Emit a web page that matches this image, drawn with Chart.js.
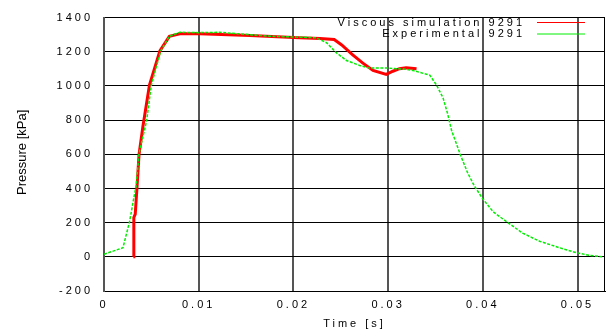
<!DOCTYPE html>
<html>
<head>
<meta charset="utf-8">
<script src="https://cdn.jsdelivr.net/npm/chart.js@4/dist/chart.umd.min.js"></script>
<style>
  html, body { margin: 0; padding: 0; background: #fff; }
  #wrap { width: 606px; height: 331px; }
</style>
</head>
<body>
<div id="wrap"><canvas id="myChart" width="606" height="331"></canvas></div>
<script>
// simulation (red)
var simTime = [0.0031, 0.00315, 0.0033, 0.0035, 0.0037, 0.0041, 0.0048, 0.0059, 0.0069, 0.0080,
  0.0101, 0.0154, 0.0206, 0.0228, 0.0243, 0.0251, 0.0262, 0.0273, 0.0284, 0.0298,
  0.0305, 0.0312, 0.0319, 0.0330];
var simPressure = [0, 230, 250, 420, 600, 760, 1005, 1205, 1290, 1305,
  1305, 1295, 1282, 1278, 1272, 1240, 1185, 1135, 1091, 1068,
  1086, 1101, 1107, 1101];

// experiment (green)
var expTime = [0.0000, 0.0020, 0.0027, 0.0032, 0.0034, 0.0037, 0.0045, 0.0050, 0.0060, 0.0069,
  0.0080, 0.0101, 0.0122, 0.0175, 0.0224, 0.0235, 0.0245, 0.0256, 0.0270, 0.0280,
  0.0298, 0.0319, 0.0326, 0.0344, 0.0351, 0.0358, 0.0363, 0.0367, 0.0372, 0.0377,
  0.0384, 0.0391, 0.0400, 0.0411, 0.0425, 0.0442, 0.0460, 0.0481, 0.0499, 0.0513, 0.0526];
var expPressure = [15, 53, 206, 360, 417, 605, 796, 1006, 1206, 1291,
  1314, 1312, 1314, 1291, 1282, 1253, 1196, 1149, 1120, 1105,
  1105, 1098, 1091, 1063, 1006, 930, 834, 739, 663, 587,
  491, 415, 339, 263, 206, 139, 91, 53, 24, 8, 0];

var legendLabels = ['Viscous simulation 9291', 'Experimental 9291'];
var legendColors = ['#ff0000', '#00ee00'];

var FONT = '"Liberation Sans", Arial, sans-serif';

function pts(xs, ys) {
  var out = [];
  for (var i = 0; i < xs.length; i++) out.push({x: xs[i], y: ys[i]});
  return out;
}

var spacingPlugin = {
  id: 'spacing',
  beforeDraw: function(chart) {
    chart.ctx.letterSpacing = '3px';
  },
  afterDraw: function(chart) {
    var ctx = chart.ctx, a = chart.chartArea;
    ctx.save();
    // right border
    ctx.strokeStyle = '#000';
    ctx.lineWidth = 1;
    ctx.beginPath();
    ctx.moveTo(a.right - 0.5, a.top);
    ctx.lineTo(a.right - 0.5, a.bottom);
    ctx.stroke();

    // legend, text left of line sample
    ctx.font = '11px ' + FONT;
    ctx.fillStyle = '#000';
    ctx.textAlign = 'right';
    ctx.textBaseline = 'middle';
    var ys = [22.5, 34];
    for (var i = 0; i < legendLabels.length; i++) {
      ctx.letterSpacing = '3px';
      ctx.fillText(legendLabels[i], 525, ys[i]);
      ctx.strokeStyle = legendColors[i];
      ctx.lineWidth = 1;
      ctx.beginPath();
      ctx.moveTo(537, ys[i]);
      ctx.lineTo(585, ys[i]);
      ctx.stroke();
    }

    // y axis title
    ctx.letterSpacing = '0px';
    ctx.font = '13px ' + FONT;
    ctx.textAlign = 'center';
    ctx.translate(22, (a.top + a.bottom) / 2 - 2);
    ctx.rotate(-Math.PI / 2);
    ctx.fillText('Pressure [kPa]', 0, 0);
    ctx.restore();
    ctx.letterSpacing = '0px';
  }
};

var ctx = document.getElementById('myChart').getContext('2d');
var myChart = new Chart(ctx, {
  type: 'line',
  data: {
    datasets: [
      {
        label: legendLabels[1],
        data: pts(expTime, expPressure),
        borderColor: legendColors[1],
        borderWidth: 1.5,
        borderDash: [3, 1.5],
        pointRadius: 0,
        tension: 0,
        fill: false
      },
      {
        label: legendLabels[0],
        data: pts(simTime, simPressure),
        borderColor: legendColors[0],
        borderWidth: 3,
        pointRadius: 0,
        tension: 0,
        fill: false
      }
    ]
  },
  options: {
    responsive: false,
    animation: false,
    devicePixelRatio: 1,
    layout: { padding: { top: 11, right: 1, left: 0, bottom: 0 } },
    plugins: {
      legend: { display: false },
      tooltip: { enabled: false }
    },
    scales: {
      x: {
        type: 'linear',
        min: 0,
        max: 0.0529,
        afterFit: function(s) { s.height = 40; },
        ticks: {
          stepSize: 0.01,
          includeBounds: false,
          maxRotation: 0,
          padding: 7,
          color: '#000',
          font: { family: FONT, size: 11 },
          callback: function(v) { return v === 0 ? '0' : v.toFixed(2); }
        },
        grid: { color: '#555', lineWidth: 2, drawTicks: false },
        border: { color: '#000', width: 1 },
        title: {
          display: true,
          text: 'Time [s]',
          color: '#000',
          font: { family: FONT, size: 11 },
          padding: { top: 0, bottom: 0 }
        }
      },
      y: {
        min: -200,
        max: 1400,
        afterFit: function(s) { s.width = 104; },
        ticks: {
          stepSize: 200,
          includeBounds: false,
          padding: 11,
          color: '#000',
          font: { family: FONT, size: 11 },
          callback: function(v) { return String(v); }
        },
        grid: { color: '#000', lineWidth: 1, drawTicks: false },
        border: { color: '#555', width: 2 }
      }
    }
  },
  plugins: [spacingPlugin]
});
</script>
</body>
</html>
